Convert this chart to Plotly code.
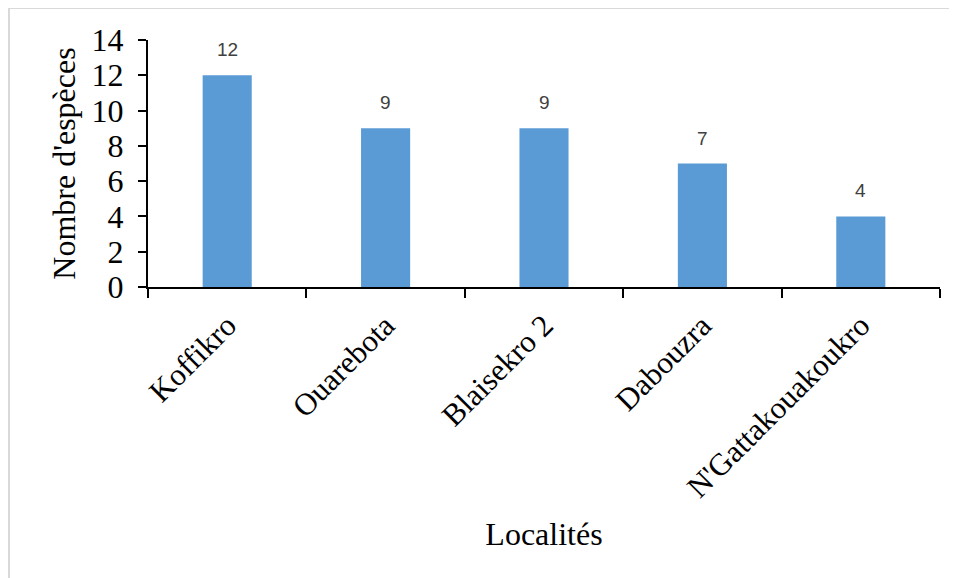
import plotly.graph_objects as go

categories = ["Koffikro", "Ouarebota", "Blaisekro 2", "Dabouzra", "N'Gattakouakoukro"]
values = [12, 9, 9, 7, 4]
y_ticks = [0, 2, 4, 6, 8, 10, 12, 14]

W, H = 957, 578
L, R, T, B = 140, 25, 32, 299
pw, ph = W - L - R, H - T - B

fig = go.Figure()
fig.add_trace(go.Bar(
    x=categories, y=values,
    marker=dict(color="#5B9BD5", line=dict(width=0)),
    width=0.31,
    hoverinfo="x+y",
))

for c, v in zip(categories, values):
    fig.add_annotation(
        x=c, y=v, text=str(v), showarrow=False,
        yanchor="bottom", yshift=13,
        font=dict(family="Liberation Sans, Arial, sans-serif", size=19, color="#404040"),
    )

# light gray frame around the chart
fx0 = (1 - L) / pw
fx1 = (W - 1 - L) / pw
fy1 = (H - B - 0) / ph
fy0 = (H - B - (H - 1)) / ph
fig.add_shape(type="rect", xref="paper", yref="paper", x0=fx0, x1=fx1, y0=fy0, y1=fy1,
              line=dict(color="#D9D9D9", width=2), fillcolor="rgba(0,0,0,0)")

serif = "Liberation Serif, Times New Roman, serif"
fig.update_layout(
    width=W, height=H,
    margin=dict(l=L, r=R, t=T, b=B, autoexpand=False),
    paper_bgcolor="white", plot_bgcolor="white",
    showlegend=False,
    xaxis=dict(
        type="category",
        tickson="boundaries",
        ticks="outside", ticklen=9, tickwidth=2, tickcolor="black",
        showline=True, linecolor="black", linewidth=2,
        tickangle=-45,
        ticklabelstandoff=6,
        tickfont=dict(family=serif, size=31, color="black"),
        title=dict(text="Localités", font=dict(family=serif, size=32, color="black"), standoff=19),
        showgrid=False, zeroline=False,
    ),
    yaxis=dict(
        range=[0, 14],
        tickvals=y_ticks,
        ticks="outside", ticklen=8, tickwidth=2, tickcolor="black",
        showline=True, linecolor="black", linewidth=2,
        ticklabelstandoff=8,
        tickfont=dict(family=serif, size=32, color="black"),
        title=dict(text="Nombre d'espèces", font=dict(family=serif, size=32, color="black"), standoff=6),
        showgrid=False, zeroline=False,
    ),
)

fig.write_html("out.html")
